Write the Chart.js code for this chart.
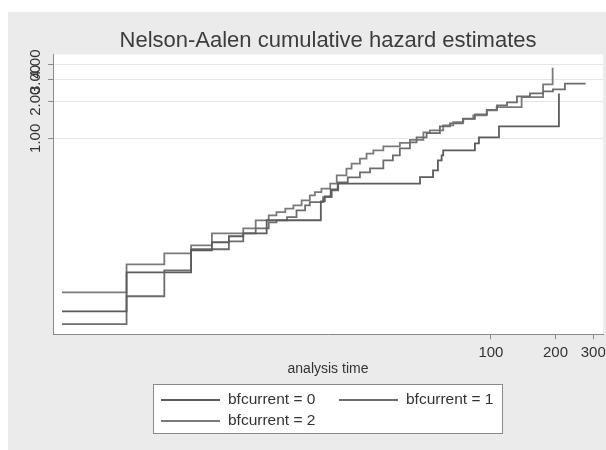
<!DOCTYPE html>
<html>
<head>
<meta charset="utf-8">
<script src="https://cdn.jsdelivr.net/npm/chart.js@4.4.1/dist/chart.umd.min.js"></script>
<style>
    html, body { margin: 0; padding: 0; background: #fff; }
    #wrap { width: 606px; height: 450px; }
</style>
</head>
<body>
<div id="wrap"><canvas id="hazardChart" width="606" height="450"></canvas></div>
<script>
// values (analysis time, cumulative hazard)
const seriesLabels = ['bfcurrent = 0', 'bfcurrent = 1', 'bfcurrent = 2'];

const time0 = [1, 2, 4, 5, 6, 7, 9, 16.1, 16.8, 17.9, 19.3, 46.7, 53.7, 56.6, 58.9, 59.9, 84.2, 87.9, 109, 207.5];
const hazard0 = [0.0397, 0.0822, 0.124, 0.144, 0.161, 0.170, 0.217, 0.309, 0.339, 0.386, 0.430, 0.486, 0.551, 0.663, 0.728, 0.800, 0.911, 1.019, 1.251, 2.314];

const time1 = [1, 2, 3, 4, 6, 7, 8, 9.2, 10, 11.2, 12.4, 13.6, 14.3, 16.5, 18.1, 19.4, 21.5, 24.5, 27.3, 31.5, 34.9, 37.6, 41.9, 45, 50.1, 57.8, 64.4, 74, 84.2, 95.8, 106.7, 118.8, 132.2, 152, 174.8, 194.5, 221.3, 276.4];
const hazard1 = [0.0312, 0.0526, 0.0853, 0.1263, 0.1466, 0.1701, 0.1867, 0.2089, 0.2168, 0.2305, 0.2612, 0.2867, 0.3049, 0.3347, 0.3793, 0.4402, 0.4832, 0.5305, 0.5715, 0.6634, 0.7283, 0.8299, 0.9281, 1.019, 1.104, 1.251, 1.323, 1.439, 1.565, 1.702, 1.850, 1.956, 2.188, 2.314, 2.402, 2.494, 2.773, 2.773];

const time2 = [1, 2, 3, 4, 5, 7, 8, 9.2, 10, 11, 12, 13.1, 14.3, 15.1, 16.2, 17.8, 19.1, 21.2, 22.4, 24.5, 26.3, 28.3, 31.5, 37.6, 41.9, 48.4, 51.9, 59.9, 66.7, 74.3, 82.7, 95.5, 106.3, 139, 175, 193.9];
const hazard2 = [0.0566, 0.0954, 0.1172, 0.136, 0.1701, 0.1867, 0.2168, 0.2379, 0.253, 0.2696, 0.2867, 0.3148, 0.3455, 0.3673, 0.3915, 0.4297, 0.5016, 0.5683, 0.6238, 0.6848, 0.7517, 0.7995, 0.8615, 0.9196, 0.9725, 1.118, 1.161, 1.274, 1.355, 1.444, 1.536, 1.686, 1.792, 2.16, 2.736, 3.737];

const xTickValues = [100, 200, 300];
const yTickValues = [1, 2, 3, 4];
const yTickLabels = ['1.00', '2.00', '3.00', '4.00'];

const FONT = '"Liberation Sans", Arial, sans-serif';

function toPoints(times, values) {
    return times.map((t, i) => ({ x: t, y: values[i] }));
}

const backdrop = {
    id: 'backdrop',
    beforeDraw(chart) {
        const { ctx, chartArea: a } = chart;
        ctx.save();
        ctx.fillStyle = '#ffffff';
        ctx.fillRect(0, 0, chart.width, chart.height);
        ctx.fillStyle = '#ebebeb';
        ctx.fillRect(8, 12, chart.width - 8, chart.height - 12);
        ctx.fillStyle = '#ffffff';
        ctx.fillRect(a.left, a.top, a.right - a.left, a.bottom - a.top);
        ctx.restore();
    }
};

// rotated y labels, placed with the y scale
const yLabels = {
    id: 'yLabels',
    afterDraw(chart) {
        const { ctx } = chart;
        const yScale = chart.scales.y;
        ctx.save();
        ctx.font = '15px ' + FONT;
        ctx.fillStyle = '#333';
        ctx.textAlign = 'center';
        ctx.textBaseline = 'middle';
        yTickValues.forEach((v, i) => {
            ctx.save();
            ctx.translate(36, yScale.getPixelForValue(v));
            ctx.rotate(-Math.PI / 2);
            ctx.fillText(yTickLabels[i], 0, 0);
            ctx.restore();
        });
        ctx.restore();
    }
};

// boxed two-column legend like the Stata one
const legendBox = {
    id: 'legendBox',
    afterDraw(chart) {
        const { ctx } = chart;
        const slots = [[161, 400], [339, 400], [161, 421]];
        ctx.save();
        ctx.fillStyle = '#fff';
        ctx.fillRect(153.5, 384.5, 349, 49);
        ctx.strokeStyle = '#8a8a8a';
        ctx.lineWidth = 1;
        ctx.strokeRect(153.5, 384.5, 349, 49);
        ctx.font = '15.5px ' + FONT;
        ctx.textAlign = 'left';
        ctx.textBaseline = 'middle';
        chart.data.datasets.forEach((ds, i) => {
            const [x, y] = slots[i];
            ctx.strokeStyle = ds.borderColor;
            ctx.lineWidth = ds.borderWidth;
            ctx.beginPath();
            ctx.moveTo(x, y);
            ctx.lineTo(x + 59, y);
            ctx.stroke();
            ctx.fillStyle = '#333';
            ctx.fillText(ds.label, x + 67, y);
        });
        ctx.restore();
    }
};

function makeDataset(label, times, values, color) {
    return {
        label: label,
        data: toPoints(times, values),
        borderColor: color,
        borderWidth: 1.8,
        stepped: true,
        fill: false,
        pointRadius: 0
    };
}

const ctx = document.getElementById('hazardChart').getContext('2d');
new Chart(ctx, {
    type: 'line',
    data: {
        datasets: [
            makeDataset(seriesLabels[0], time0, hazard0, '#5c5c5c'),
            makeDataset(seriesLabels[1], time1, hazard1, '#6c6c6c'),
            makeDataset(seriesLabels[2], time2, hazard2, '#7a7a7a')
        ]
    },
    options: {
        responsive: false,
        animation: false,
        devicePixelRatio: 1,
        layout: { padding: { left: 0, right: 3, top: 0, bottom: 72 } },
        plugins: {
            legend: { display: false },
            tooltip: { enabled: false },
            title: {
                display: true,
                fullSize: false,
                text: 'Nelson-Aalen cumulative hazard estimates',
                color: '#3c3c3c',
                font: { family: FONT, size: 22, weight: 'normal' },
                padding: { top: 28, bottom: 0 }
            }
        },
        scales: {
            x: {
                type: 'logarithmic',
                min: 0.908,
                max: 333,
                afterBuildTicks: (scale) => {
                    scale.ticks = xTickValues.map(v => ({ value: v }));
                },
                afterFit: (scale) => {
                    scale.paddingLeft = 0;
                    scale.paddingRight = 0;
                },
                grid: { drawOnChartArea: false, tickLength: 5, tickColor: '#8a8a8a' },
                border: { color: '#8a8a8a', width: 1 },
                ticks: {
                    autoSkip: false,
                    maxRotation: 0,
                    padding: 5,
                    color: '#333',
                    font: { family: FONT, size: 15 },
                    callback: (value) => String(value)
                },
                title: {
                    display: true,
                    text: 'analysis time',
                    color: '#333',
                    font: { family: FONT, size: 14 },
                    padding: { top: -6, bottom: 0 }
                }
            },
            y: {
                type: 'logarithmic',
                min: 0.0259,
                max: 4.79,
                afterBuildTicks: (scale) => {
                    scale.ticks = yTickValues.map(v => ({ value: v }));
                },
                afterFit: (scale) => {
                    scale.width = 53;
                },
                grid: { color: '#e6e6e6', tickLength: 5, tickColor: '#8a8a8a' },
                border: { color: '#8a8a8a', width: 1 },
                ticks: { display: false }
            }
        }
    },
    plugins: [backdrop, yLabels, legendBox]
});
</script>
</body>
</html>
